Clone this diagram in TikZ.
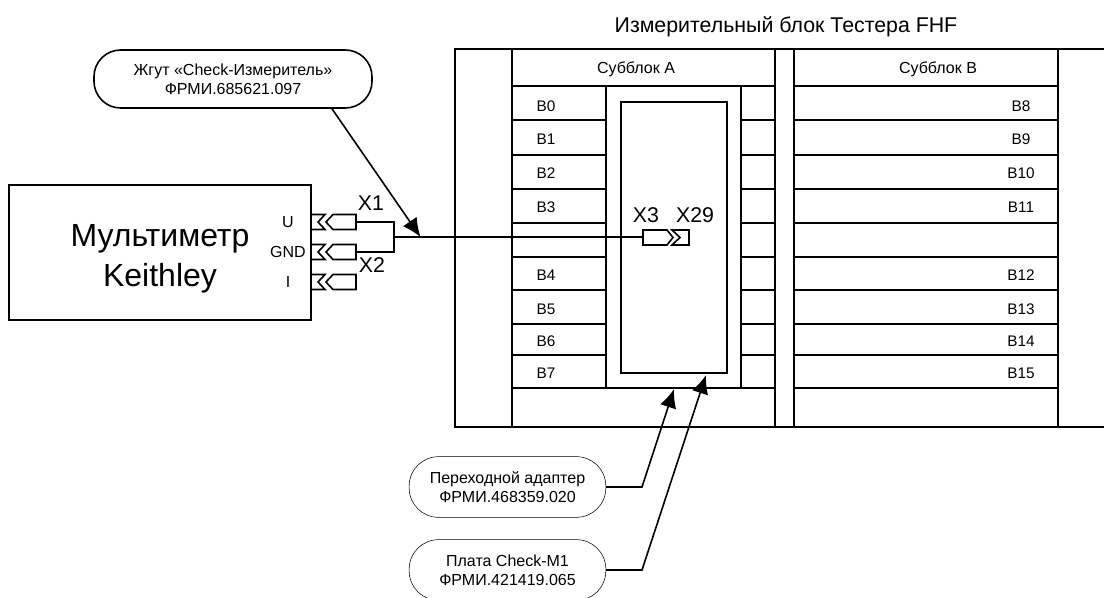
\documentclass[tikz,border=0pt]{standalone}
\usepackage{fontspec}
\setmainfont{Liberation Sans}
\usetikzlibrary{calc, arrows.meta}
\tikzset{
  frameline/.style = {line width = 1.2pt},
  wire/.style = {line width = 1.2pt},
  pointer/.style = {line width = 1.2pt, -{Latex[length = 14pt, width = 12.5pt]}},
  lbl/.style = {inner sep = 0pt, font = \fontsize{11.5}{13}\selectfont},
  sublbl/.style = {inner sep = 0pt, font = \fontsize{12}{14}\selectfont},
  pinlbl/.style = {inner sep = 0pt, font = \fontsize{12}{14}\selectfont},
  conlbl/.style = {inner sep = 0pt, font = \fontsize{16}{18}\selectfont},
  pill/.style = {draw, line width = 0.4pt, rounded corners = 22pt, align = center, inner sep = 0pt,
     minimum width = 147.5pt, minimum height = 45.5pt, font = \fontsize{12}{14}\selectfont},
}
\begin{document}
\begin{tikzpicture}[x = 0.75pt, y = -0.75pt]
\useasboundingbox (0,0) rectangle (1104,597);
\clip (0,0) rectangle (1104,597);

\node[inner sep = 0pt, font = \fontsize{16}{18}\selectfont] (title) at (786,27) {Измерительный блок Тестера FHF};

%measuring block frame
\draw[frameline] (1104,49) -- (455,49) -- (455,427) -- (1104,427);
\foreach \xa in {512,775,794,1058}
  \draw[frameline] (\xa,49) -- (\xa,427);
\draw[frameline] (512,86) -- (775,86);
\draw[frameline] (794,86) -- (1058,86);
\draw[frameline] (512,388) -- (775,388);
\draw[frameline] (794,388) -- (1058,388);
\foreach \yb in {120,155,189,223,257,290,324,355} {
  \draw[frameline] (512,\yb) -- (606,\yb);
  \draw[frameline] (741,\yb) -- (775,\yb);
  \draw[frameline] (794,\yb) -- (1058,\yb);
}
\draw[frameline] (606,86) -- (606,388);
\draw[frameline] (741,86) -- (741,388);
\draw[frameline] (621,102) rectangle (727,373);

\node[sublbl] (subA) at (636,69) {Субблок А};
\node[sublbl] (subB) at (938,69) {Субблок В};
\foreach \yb/\nA/\nB in {106/0/8,139/1/9,173/2/10,207/3/11,275/4/12,309/5/13,341/6/14,373/7/15} {
  \node[lbl] (b\nA) at (546,\yb) {B\nA};
  \node[lbl] (b\nB) at (1021,\yb) {B\nB};
}

%multimeter
\node[draw, frameline, minimum width = 226.5pt, minimum height = 101.25pt, inner sep = 0pt] (meter) at (160,252.5) {};
\node[inner sep = 0pt, align = center, font = \fontsize{24}{30}\selectfont] (meterName) at (160,259) {Мультиметр\\Keithley};
\node[pinlbl] (pinU) at (288,222) {U};
\node[pinlbl] (pinGND) at (288,252) {GND};
\node[pinlbl] (pinI) at (288,282) {I};

%connectors on the multimeter
\foreach \yc/\nc in {222/U,252/G,282/I} {
  \draw[wire] (311,\yc-7.5) -- (325,\yc-7.5) -- (318,\yc) -- (325,\yc+7.5) -- (311,\yc+7.5);
  \draw[wire] (333,\yc-7.5) -- (356,\yc-7.5) -- (356,\yc+7.5) -- (333,\yc+7.5) -- (326,\yc) -- cycle;
  \coordinate (plug\nc) at (356,\yc);
}
\node[conlbl] (x1) at (371,203) {X1};
\node[conlbl] (x2) at (372,265) {X2};

%connectors on the board
\draw[wire] (643,230) -- (667,230) -- (673,237.5) -- (667,245) -- (643,245) -- cycle;
\draw[wire] (672,230) -- (689,230) -- (689,245) -- (672,245) -- (680,237.5) -- cycle;
\coordinate (plugX) at (643,237);
\node[conlbl] (x3) at (646,215) {X3};
\node[conlbl] (x29) at (695,215) {X29};

%harness
\coordinate (joint) at (394,237);
\draw[wire] (plugU) -| (joint);
\draw[wire] (plugG) -| (joint);
\draw[wire] (joint) -- (plugX);

%callouts
\node[pill, line width = 1.2pt, minimum width = 208.5pt, minimum height = 43.5pt, rounded corners = 20pt] (harness) at (233,79) {Жгут «Check-Измеритель»\\ФРМИ.685621.097};
\node[pill] (adapter) at (507.5,487) {Переходной адаптер\\ФРМИ.468359.020};
\node[pill] (board) at (507.5,570) {Плата Check-M1\\ФРМИ.421419.065};

\coordinate (tipH) at (420.5,237);
\coordinate (tipA) at (674,389);
\coordinate (tipB) at (706,375);
\draw[pointer] (harness.south -| 332,0) -- (tipH);
\draw[pointer] (adapter.east) -- (642,487) -- (tipA);
\draw[pointer] (board.east) -- (642,570) -- (tipB);

\end{tikzpicture}
\end{document}
